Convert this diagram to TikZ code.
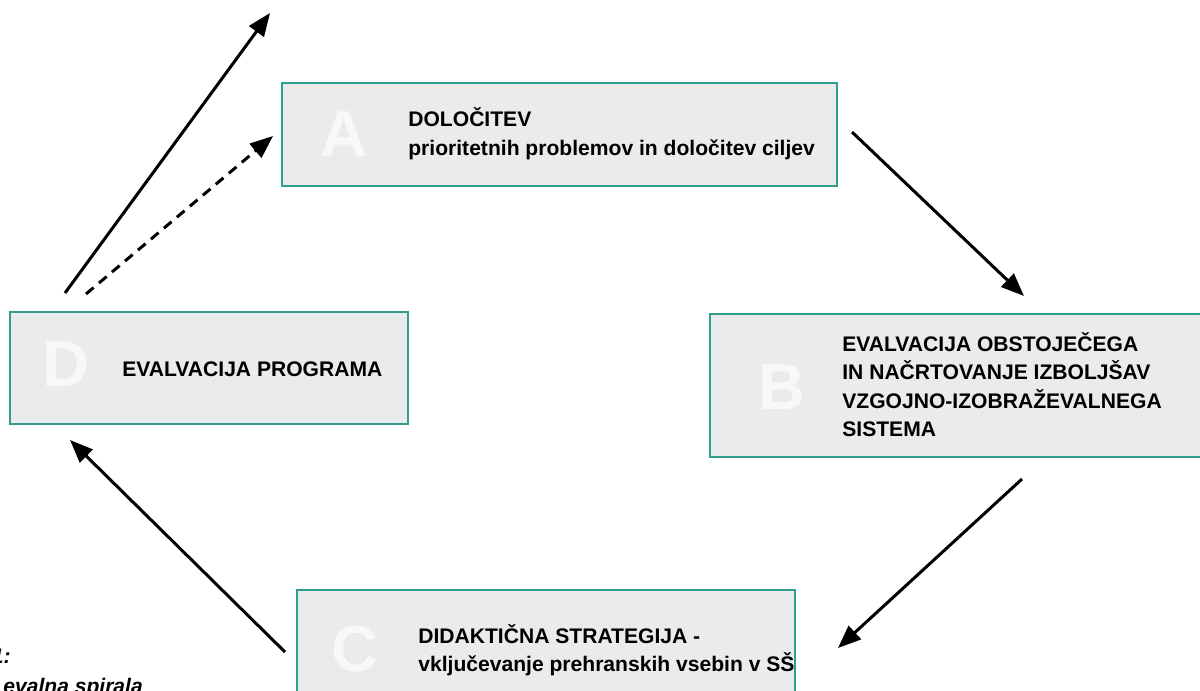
\documentclass[tikz,border=0pt]{standalone}
\usepackage{fontspec}
\setmainfont{Liberation Sans}
\usetikzlibrary{arrows.meta}
\definecolor{frameteal}{HTML}{2E9E8E}
\definecolor{panelgrey}{HTML}{EBEBEB}
\definecolor{ghost}{HTML}{F8F8F8}
\tikzset{
  panel/.style={draw=frameteal, line width=0.055cm, fill=panelgrey, inner sep=0pt},
  bigletter/.style={text=ghost, inner sep=0pt, font=\fontsize{37}{37}\selectfont\bfseries},
  line/.style={anchor=base west, inner sep=0pt, font=\fontsize{12}{14}\selectfont\bfseries},
  caption/.style={anchor=base west, inner sep=0pt, font=\fontsize{12}{14}\selectfont\bfseries\itshape},
  flow/.style={draw=black, line width=0.06cm, -{Triangle[length=0.46cm, width=0.36cm]}},
}
\begin{document}
\begin{tikzpicture}[x=0.02cm, y=-0.02cm]
\useasboundingbox (0,0) rectangle (1200,690);
\clip (0,0) rectangle (1200,690);

% the four stages of the cycle
\node[panel, minimum width=11.1cm, minimum height=2.06cm] (A) at (559.5,134.5) {};
\node[panel, minimum width=10.1cm, minimum height=2.86cm] (B) at (962.5,385.5) {};
\node[panel, minimum width=9.96cm, minimum height=2.3cm] (C) at (546,647.5) {};
\node[panel, minimum width=7.96cm, minimum height=2.24cm] (D) at (209,368) {};

% stage letters
\node[bigletter] (LA) at (344,134) {A};
\node[bigletter] (LB) at (782,387) {B};
\node[bigletter] (LC) at (355,649) {C};
\node[bigletter] (LD) at (66,364) {D};

% stage texts
\node[line] (A1) at (408,126) {DOLOČITEV};
\node[line] (A2) at (408,155) {prioritetnih problemov in določitev ciljev};

\node[line] (B1) at (842,351) {EVALVACIJA OBSTOJEČEGA};
\node[line] (B2) at (842,379.5) {IN NAČRTOVANJE IZBOLJŠAV};
\node[line] (B3) at (842,408) {VZGOJNO-IZOBRAŽEVALNEGA};
\node[line] (B4) at (842,436.5) {SISTEMA};

\node[line] (C1) at (418,643) {DIDAKTIČNA STRATEGIJA -};
\node[line] (C2) at (418,671) {vključevanje prehranskih vsebin v SŠ};

\node[line] (D1) at (122,376) {EVALVACIJA PROGRAMA};

% caption in the lower left corner
\node[caption, anchor=base east] (cap1) at (11,663) {1:};
\node[caption] (cap2) at (3,693) {evalna spirala};

% connector end points
\coordinate (ab1) at (852,132);
\coordinate (ab2) at (1024,296);
\coordinate (bc1) at (1022,479);
\coordinate (bc2) at (838,648);
\coordinate (cd1) at (285,652);
\coordinate (cd2) at (70,440);
\coordinate (da1) at (65,293);
\coordinate (da2) at (270,13);
\coordinate (dd1) at (86,294);
\coordinate (dd2) at (273,136);

% cycle arrows
\draw[flow] (ab1) -- (ab2);
\draw[flow] (bc1) -- (bc2);
\draw[flow] (cd1) -- (cd2);
\draw[flow] (da1) -- (da2);
\draw[flow, dash pattern=on 0.2cm off 0.14cm] (dd1) -- (dd2);
\end{tikzpicture}
\end{document}
